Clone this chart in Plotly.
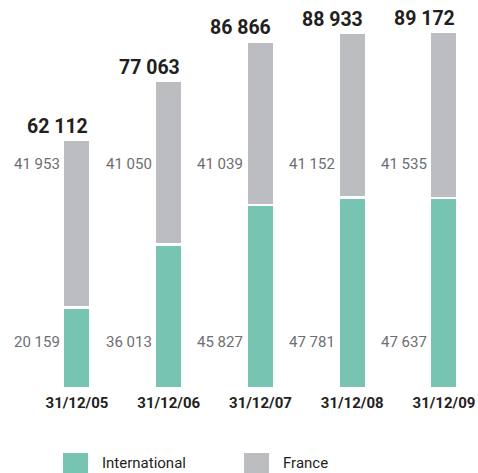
import plotly.graph_objects as go

# données (en milliers)
dates = ["31/12/05", "31/12/06", "31/12/07", "31/12/08", "31/12/09"]
international = [20159, 36013, 45827, 47781, 47637]
france = [41953, 41050, 41039, 41152, 41535]
totals = [62112, 77063, 86866, 88933, 89172]

TEAL = "#77c4b2"
GREY = "#bcbdc1"
FONT = "Roboto, Liberation Sans, sans-serif"

W, H = 478, 473
PLOT_H = 388  # bas des barres en pixels
PX_PER_UNIT = 0.00399


def fmt(v):
    return "{:,}".format(v).replace(",", " ")


fig = go.Figure()
fig.add_trace(
    go.Bar(
        x=dates,
        y=international,
        name="International",
        marker=dict(color=TEAL, line=dict(color="white", width=2.5)),
        width=0.3,
    )
)
fig.add_trace(
    go.Bar(
        x=dates,
        y=france,
        name="France",
        marker=dict(color=GREY, line=dict(color="white", width=2.5)),
        width=0.3,
    )
)

annotations = []
for d, i_val, f_val, tot in zip(dates, international, france, totals):
    # total au-dessus de la barre
    annotations.append(
        dict(
            x=d, y=tot, text="<b>" + fmt(tot) + "</b>", showarrow=False,
            xanchor="right", yanchor="bottom", xshift=13, yshift=0,
            font=dict(family=FONT, size=19.5, color="#231f20"),
        )
    )
    # valeurs à gauche des barres
    annotations.append(
        dict(
            x=d, y=0, text=fmt(f_val), showarrow=False,
            xanchor="right", yanchor="middle", xshift=-15, yshift=224,
            font=dict(family=FONT, size=15, color="#6d6e71"),
        )
    )
    annotations.append(
        dict(
            x=d, y=0, text=fmt(i_val), showarrow=False,
            xanchor="right", yanchor="middle", xshift=-15, yshift=46,
            font=dict(family=FONT, size=15, color="#6d6e71"),
        )
    )

# légende manuelle
shapes = []
for x0, color, label in [(63, TEAL, "International"), (244, GREY, "France")]:
    shapes.append(
        dict(
            type="rect", xref="paper", yref="paper",
            x0=x0 / W, x1=(x0 + 25) / W,
            y0=(PLOT_H - 474) / PLOT_H, y1=(PLOT_H - 453) / PLOT_H,
            fillcolor=color, line=dict(width=0),
        )
    )
    annotations.append(
        dict(
            xref="paper", yref="paper", x=(x0 + 37) / W, y=(PLOT_H - 463) / PLOT_H,
            text=label, showarrow=False, xanchor="left", yanchor="middle",
            font=dict(family=FONT, size=15, color="#231f20"),
        )
    )

fig.update_layout(
    barmode="stack",
    width=W,
    height=H,
    margin=dict(l=0, r=0, t=0, b=H - PLOT_H),
    plot_bgcolor="white",
    paper_bgcolor="white",
    showlegend=False,
    annotations=annotations,
    shapes=shapes,
    xaxis=dict(
        range=[-0.839, 4.371], showgrid=False, zeroline=False, showline=False,
        ticks="", ticklabelstandoff=4,
        tickfont=dict(family=FONT, size=15, color="#231f20"),
        tickprefix="<b>", ticksuffix="</b>",
    ),
    yaxis=dict(
        range=[0, PLOT_H / PX_PER_UNIT], visible=False,
    ),
)

# pas de marge ni de barres de défilement autour de la figure
fig.write_html(
    "out.html",
    config={"displayModeBar": False},
    post_script="document.body.style.margin='0';document.body.style.overflow='hidden';",
)
